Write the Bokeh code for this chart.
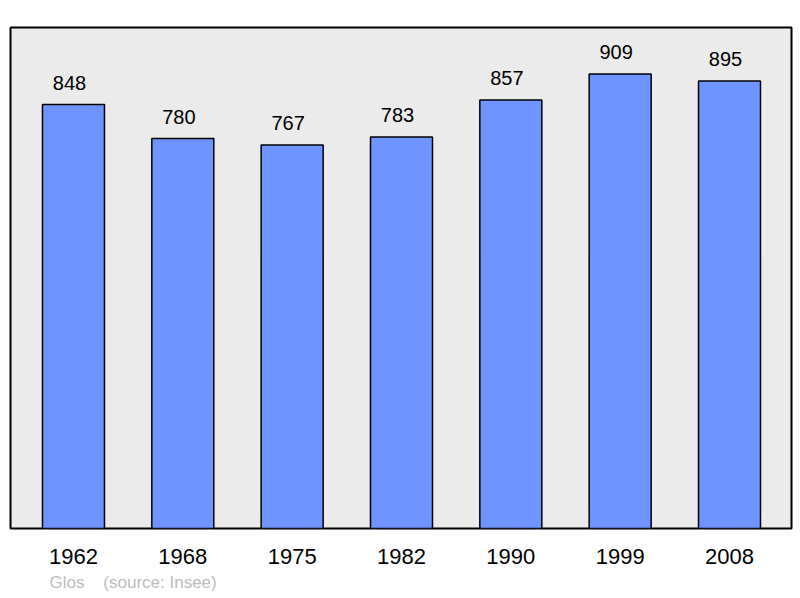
import numpy as np
from bokeh.plotting import figure
from bokeh.models import ColumnDataSource, FixedTicker, Range1d, Title
from bokeh.core.properties import value
from bokeh.embed import file_html
from bokeh.resources import INLINE

# population data (Glos, source Insee)
years = ["1962", "1968", "1975", "1982", "1990", "1999", "2008"]
population = [848, 780, 767, 783, 857, 909, 895]

xs = list(range(len(years)))
source = ColumnDataSource(dict(x=xs, pop=population, lab=[str(v) for v in population]))

p = figure(width=793, height=596, output_backend="svg", toolbar_location=None,
           x_range=Range1d(-0.576, 6.567), y_range=Range1d(0, 1002),
           min_border_left=10, min_border_right=2, min_border_top=27, min_border_bottom=10)

p.background_fill_color = "#ebebeb"
p.border_fill_color = "white"
p.outline_line_color = "black"
p.outline_line_width = 2
p.grid.visible = False
p.yaxis.visible = False

p.vbar(x="x", top="pop", width=0.567, bottom=0, source=source,
       fill_color="#7094ff", line_color="black", line_width=1.5)

p.text(x="x", y="pop", text="lab", source=source, text_align="center",
       text_baseline="alphabetic", y_offset=-22, x_offset=-4,
       text_font=value("Liberation Sans"), text_font_size="20px", text_color="black")

xa = p.xaxis[0]
xa.ticker = FixedTicker(ticks=xs)
xa.major_label_overrides = {i: y for i, y in enumerate(years)}
xa.axis_line_color = None
xa.major_tick_line_color = None
xa.minor_tick_line_color = None
xa.major_tick_out = 0
xa.major_label_standoff = 20
xa.major_label_text_font = "Liberation Sans"
xa.major_label_text_font_size = "22px"
xa.major_label_text_color = "black"

foot = Title(text="Glos\u00a0\u00a0\u00a0\u00a0(source: Insee)", align="left", offset=39,
             text_font="Liberation Sans", text_font_size="17px",
             text_color="#bdbdbd", text_font_style="normal", standoff=9)
p.add_layout(foot, "below")

open("out.html", "w").write(file_html(p, INLINE))
